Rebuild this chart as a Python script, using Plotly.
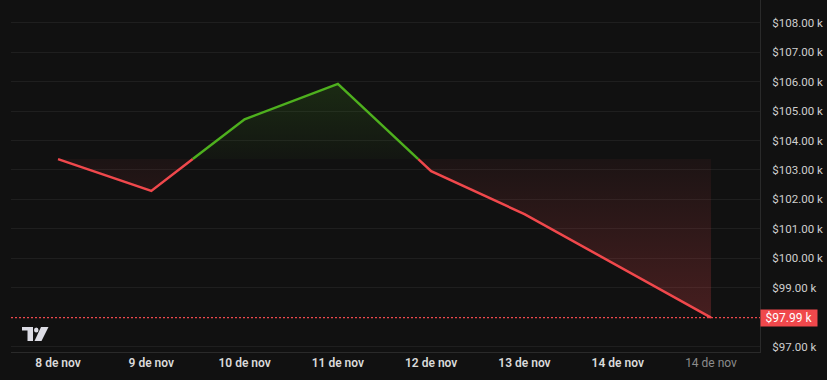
import plotly.graph_objects as go

# ---- data ----
tick_labels = ["8 de nov", "9 de nov", "10 de nov", "11 de nov", "12 de nov",
               "13 de nov", "14 de nov", "14 de nov"]
prices = [103.37, 102.29, 104.72, 105.92, 102.96, 101.50, 99.75, 97.99]  # in $k
last_price = 97.99
y_ticks = [97, 99, 100, 101, 102, 103, 104, 105, 106, 107, 108]

GREEN = "rgb(78,176,30)"
RED = "rgb(240,72,76)"
BG = "#111111"
GRID = "#1f1f1f"
FONT = "Roboto"

base = prices[0]
xs = list(range(len(prices)))
XR = [-0.504, 7.525]

# densify with baseline crossings
px, pv = [], []
for i in range(len(prices)):
    px.append(xs[i]); pv.append(prices[i])
    if i < len(prices) - 1:
        a, b = prices[i], prices[i + 1]
        if (a - base) * (b - base) < 0:
            t = (base - a) / (b - a)
            px.append(xs[i] + t); pv.append(base)

above = [max(v, base) for v in pv]
below = [min(v, base) for v in pv]
green_line = [v if v >= base else None for v in pv]
red_line = [v if v <= base else None for v in pv]

fig = go.Figure()
# green fill
fig.add_trace(go.Scatter(x=px, y=[base] * len(px), mode="lines",
                         line=dict(width=0), hoverinfo="skip", showlegend=False))
fig.add_trace(go.Scatter(x=px, y=above, mode="lines", line=dict(width=0),
                         fill="tonexty",
                         fillgradient=dict(type="vertical",
                                           colorscale=[[0, "rgba(78,176,30,0.03)"],
                                                       [1, "rgba(78,176,30,0.16)"]],
                                           start=base, stop=max(prices)),
                         hoverinfo="skip", showlegend=False))
# red fill
fig.add_trace(go.Scatter(x=px, y=[base] * len(px), mode="lines",
                         line=dict(width=0), hoverinfo="skip", showlegend=False))
fig.add_trace(go.Scatter(x=px, y=below, mode="lines", line=dict(width=0),
                         fill="tonexty",
                         fillgradient=dict(type="vertical",
                                           colorscale=[[0, "rgba(240,72,76,0.24)"],
                                                       [1, "rgba(240,72,76,0.05)"]],
                                           start=min(prices), stop=base),
                         hoverinfo="skip", showlegend=False))
# last price dotted line
fig.add_trace(go.Scatter(x=XR, y=[last_price, last_price], mode="lines",
                         line=dict(color=RED, width=1.3, dash="2px,2px"),
                         cliponaxis=False, hoverinfo="skip", showlegend=False))
# lines
fig.add_trace(go.Scatter(x=px, y=red_line, mode="lines",
                         line=dict(color=RED, width=2.5), connectgaps=False,
                         hoverinfo="skip", showlegend=False))
fig.add_trace(go.Scatter(x=px, y=green_line, mode="lines",
                         line=dict(color=GREEN, width=2.5), connectgaps=False,
                         hoverinfo="skip", showlegend=False))

# price label
fig.add_annotation(xref="paper", x=1, y=last_price, yref="y",
                   xanchor="left", yanchor="middle", xshift=0,
                   text=f"${last_price:.2f} k", showarrow=False,
                   bgcolor=RED, font=dict(color="white", size=12, family=FONT),
                   borderpad=1, width=54, align="center")

# logo (decorative) in paper coords
W, H, L = 749.0, 352.0, 11.0
def pp(x, y):
    return ((x - L) / W, 1 - y / H)
logo_col = "#dcdce4"
x0, y0 = pp(22, 327); x1, y1 = pp(33, 330.5)
fig.add_shape(type="rect", xref="paper", yref="paper", x0=x0, y0=y0, x1=x1, y1=y1,
              fillcolor=logo_col, line=dict(width=0))
x0, y0 = pp(27.5, 327); x1, y1 = pp(33, 341)
fig.add_shape(type="rect", xref="paper", yref="paper", x0=x0, y0=y0, x1=x1, y1=y1,
              fillcolor=logo_col, line=dict(width=0))
x0, y0 = pp(34, 327.5); x1, y1 = pp(38.5, 332.5)
fig.add_shape(type="circle", xref="paper", yref="paper", x0=x0, y0=y0, x1=x1, y1=y1,
              fillcolor=logo_col, line=dict(width=0))
pts = [pp(41, 327), pp(48.5, 327), pp(41.5, 341), pp(34.5, 341)]
path = "M " + " L ".join(f"{a},{b}" for a, b in pts) + " Z"
fig.add_shape(type="path", xref="paper", yref="paper", path=path,
              fillcolor=logo_col, line=dict(width=0))

ticktext_x = [f"<span style='color:#dadada'>{t}</span>" for t in tick_labels[:-1]] + \
             [f"<span style='color:#8c8c8c;font-weight:400'>{tick_labels[-1]}</span>"]

fig.update_layout(
    width=827, height=380,
    margin=dict(l=11, r=67, t=0, b=28),
    paper_bgcolor=BG, plot_bgcolor=BG,
    font=dict(family=FONT, color="#d0d0d0", size=12),
    xaxis=dict(range=XR, tickvals=xs, ticktext=ticktext_x,
               showgrid=False, zeroline=False, showline=True,
               linecolor="#2a2a2a", linewidth=1, ticks="",
               tickfont=dict(size=12, weight=600, family=FONT), fixedrange=True),
    yaxis=dict(range=[96.82, 108.77], side="right", tickvals=y_ticks,
               ticktext=[f"${v:.2f} k" for v in y_ticks],
               showgrid=True, gridcolor=GRID, gridwidth=1, zeroline=False,
               showline=True, linecolor="#2a2a2a", linewidth=1,
               ticks="outside", ticklen=9, tickcolor="rgba(0,0,0,0)",
               tickfont=dict(size=11.5, color="#cfcfcf", family=FONT), fixedrange=True),
    hovermode=False,
)

fig.write_html("out.html")
